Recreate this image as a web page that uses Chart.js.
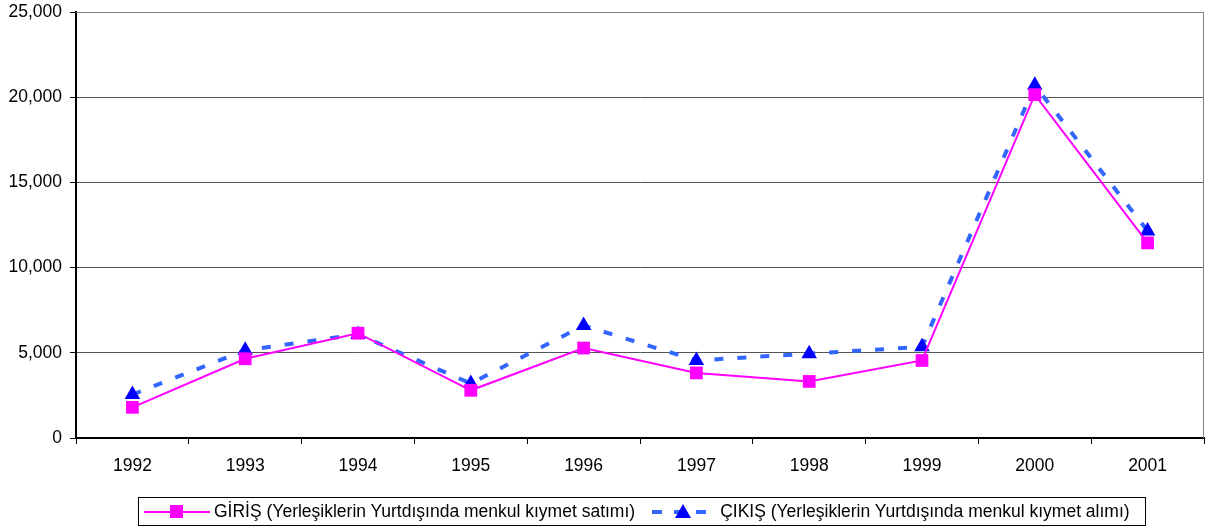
<!DOCTYPE html>
<html>
<head>
<meta charset="utf-8">
<script src="https://cdn.jsdelivr.net/npm/chart.js@4/dist/chart.umd.min.js"></script>
<style>
  body { margin: 0; background: #fff; font-family: "Liberation Sans", Arial, sans-serif; }
  #wrap { position: relative; width: 1207px; height: 528px; }
  #legend {
    position: absolute; left: 138px; top: 497px; width: 1006px; height: 27px;
    border: 1px solid #000; display: flex; align-items: center;
    font-size: 17.5px; color: #000; white-space: nowrap;
  }
  #legend .item { display: flex; align-items: center; }
  #legend svg { margin: 0 4px 0 4px; }
</style>
</head>
<body>
<div id="wrap">
  <canvas id="chart" width="1207" height="528"></canvas>
  <div id="legend"></div>
</div>
<script>
// years on the x axis
const years = ['1992', '1993', '1994', '1995', '1996', '1997', '1998', '1999', '2000', '2001'];

// GİRİŞ - residents selling securities abroad
const giris = [1800, 4650, 6150, 2800, 5280, 3820, 3320, 4550, 20150, 11450];

// ÇIKIŞ - residents buying securities abroad
const cikis = [2550, 5150, 6080, 3200, 6600, 4550, 4950, 5350, 20700, 12150];

const girisLabel = 'GİRİŞ (Yerleşiklerin Yurtdışında menkul kıymet satımı)';
const cikisLabel = 'ÇIKIŞ (Yerleşiklerin Yurtdışında menkul kıymet alımı)';

// grey frame on top / right like the excel plot area
const framePlugin = {
  id: 'frame',
  beforeDatasetsDraw(chart) {
    const { ctx, chartArea: a } = chart;
    ctx.save();
    ctx.strokeStyle = '#808080';
    ctx.lineWidth = 1;
    ctx.beginPath();
    ctx.moveTo(a.left, a.top + 0.5);
    ctx.lineTo(a.right - 0.5, a.top + 0.5);
    ctx.lineTo(a.right - 0.5, a.bottom);
    ctx.stroke();
    ctx.restore();
  }
};

new Chart(document.getElementById('chart'), {
  type: 'line',
  data: {
    labels: years,
    datasets: [
      {
        label: girisLabel,
        data: giris,
        borderColor: '#FF00FF',
        borderWidth: 2,
        pointStyle: 'rect',
        pointRadius: 9,
        pointBackgroundColor: '#FF00FF',
        pointBorderColor: '#FF00FF',
        pointBorderWidth: 0,
        tension: 0
      },
      {
        label: cikisLabel,
        data: cikis,
        borderColor: '#3366FF',
        borderWidth: 4,
        borderDash: [9, 14],
        pointStyle: 'triangle',
        pointRadius: 9,
        pointBackgroundColor: '#0000FF',
        pointBorderColor: '#0000FF',
        pointBorderWidth: 0,
        tension: 0
      }
    ]
  },
  options: {
    responsive: false,
    animation: false,
    layout: { autoPadding: false, padding: { top: 12, right: 3, left: 0, bottom: 0 } },
    plugins: {
      legend: { display: false },
      tooltip: { enabled: false }
    },
    scales: {
      x: {
        offset: true,
        grid: { offset: true, drawOnChartArea: false, color: '#000', tickLength: 6 },
        border: { color: '#000', width: 2 },
        ticks: { color: '#000', font: { family: 'Liberation Sans', size: 17.5 }, padding: 12 },
        afterFit(scale) {
          scale.height = 90;
          scale.paddingLeft = 0;
          scale.paddingRight = 0;
        }
      },
      y: {
        min: 0,
        max: 25000,
        ticks: {
          stepSize: 5000,
          color: '#000',
          font: { family: 'Liberation Sans', size: 17.5 },
          padding: 8,
          callback: v => v.toLocaleString('en-US')
        },
        grid: { color: '#555', tickLength: 6, tickColor: '#000' },
        border: { color: '#000', width: 2 },
        afterFit(scale) {
          scale.width = 76;
          scale.paddingTop = 0;
          scale.paddingBottom = 0;
        }
      }
    }
  },
  plugins: [framePlugin]
});

// html legend with line + marker swatches
function swatch(color, dashed, marker) {
  const line = dashed
    ? `<line x1="2" y1="10" x2="64" y2="10" stroke="${color}" stroke-width="4" stroke-dasharray="10 12"/>`
    : `<line x1="0" y1="10" x2="66" y2="10" stroke="${color}" stroke-width="2"/>`;
  const mark = marker === 'rect'
    ? `<rect x="26" y="3" width="13" height="13" fill="#FF00FF"/>`
    : `<polygon points="33,2 41,16 25,16" fill="#0000FF"/>`;
  return `<svg width="66" height="20">${line}${mark}</svg>`;
}
document.getElementById('legend').innerHTML =
  `<div class="item" style="margin-left:1px">${swatch('#FF00FF', false, 'rect')}<span>${girisLabel}</span></div>` +
  `<div class="item" style="margin-left:11px">${swatch('#3366FF', true, 'tri')}<span>${cikisLabel}</span></div>`;
</script>
</body>
</html>
